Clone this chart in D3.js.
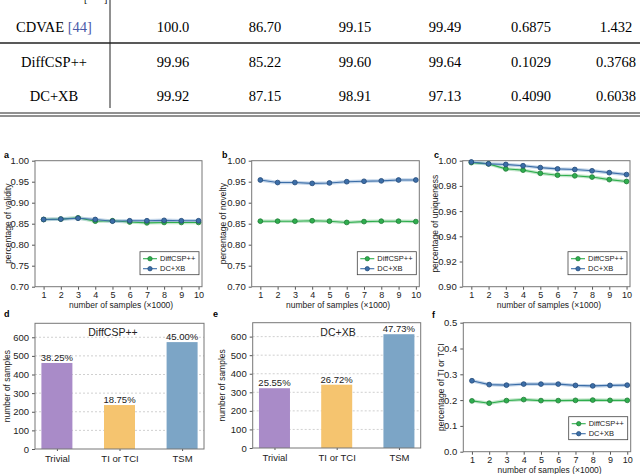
<!DOCTYPE html>
<html>
<head>
<meta charset="utf-8">
<script src="https://cdn.jsdelivr.net/npm/d3@7"></script>
<style>
  body { margin: 0; background: #fff; }
  svg { display: block; }
</style>
</head>
<body>
<script>
// ---- table data
var tableRows = ["CDVAE [44]", "DiffCSP++", "DC+XB"];
var tableVals = [
  ["100.0", "86.70", "99.15", "99.49", "0.6875", "1.432"],
  ["99.96", "85.22", "99.60", "99.64", "0.1029", "0.3768"],
  ["99.92", "87.15", "98.91", "97.13", "0.4090", "0.6038"]
];

// ---- line chart data (x = number of samples x1000)
var samples = [1, 2, 3, 4, 5, 6, 7, 8, 9, 10];
var validityDiff = [0.860, 0.861, 0.864, 0.856, 0.857, 0.854, 0.852, 0.853, 0.853, 0.853];
var validityDCXB = [0.860, 0.861, 0.863, 0.860, 0.856, 0.857, 0.857, 0.858, 0.857, 0.857];
var noveltyDiff = [0.856, 0.856, 0.856, 0.857, 0.856, 0.853, 0.855, 0.856, 0.856, 0.855];
var noveltyDCXB = [0.954, 0.948, 0.948, 0.946, 0.947, 0.950, 0.951, 0.952, 0.954, 0.954];
var uniqDiff = [0.9985, 0.9975, 0.9935, 0.9925, 0.9900, 0.9885, 0.9880, 0.9870, 0.9850, 0.9835];
var uniqDCXB = [0.9990, 0.9975, 0.9970, 0.9960, 0.9945, 0.9935, 0.9930, 0.9920, 0.9905, 0.9890];
var tiDiff = [0.197, 0.188, 0.198, 0.202, 0.198, 0.198, 0.199, 0.200, 0.199, 0.199];
var tiDCXB = [0.275, 0.260, 0.258, 0.262, 0.262, 0.262, 0.257, 0.255, 0.257, 0.258];

// ---- bar chart data
var classes = ["Trivial", "TI or TCI", "TSM"];
var countsDiff = [462, 236, 574];
var pctDiff = ["38.25%", "18.75%", "45.00%"];
var countsDCXB = [322, 341, 613];
var pctDCXB = ["25.55%", "26.72%", "47.73%"];

var green = "#2fae4e", greenDark = "#1f7a36", greenLight = "#a8dcb4";
var blue = "#3c6ea8", blueDark = "#244a78", blueLight = "#a9c3e0";
var barColors = ["#a98bc8", "#f5c46f", "#7ca5c6"];
var sans = "Liberation Sans, Arial, sans-serif";

var svg = d3.select("body").append("svg")
  .attr("width", 640)
  .attr("height", 474)
  .style("font-family", sans);

// ================= table
var serif = "Liberation Serif, Times New Roman, serif";
var tab = svg.append("g").style("font-family", serif).style("font-size", "14.5px");
var colX = [173, 265, 355, 445, 531, 616];
var rowY = d3.scalePoint().domain(tableRows).range([32, 101]);

// bottom of the header row that is cut off at the top
tab.append("text").attr("x", 84).attr("y", 2).style("font-size", "10px").text("[");
tab.append("text").attr("x", 104).attr("y", 2).style("font-size", "10px").text("]");
tab.append("line").attr("x1", 110).attr("x2", 110).attr("y1", 0).attr("y2", 108)
  .attr("stroke", "#222").attr("stroke-width", 1);
tab.append("line").attr("x1", 0).attr("x2", 640).attr("y1", 43).attr("y2", 43)
  .attr("stroke", "#222").attr("stroke-width", 1.4);
tab.append("line").attr("x1", 0).attr("x2", 640).attr("y1", 113).attr("y2", 113)
  .attr("stroke", "#222").attr("stroke-width", 1);
tab.append("line").attr("x1", 0).attr("x2", 640).attr("y1", 116).attr("y2", 116)
  .attr("stroke", "#222").attr("stroke-width", 1);

tableRows.forEach(function(r, i) {
  var t = tab.append("text").attr("x", 54).attr("y", rowY(r)).attr("text-anchor", "middle");
  if (r.indexOf("[") >= 0) {
    t.append("tspan").text("CDVAE ");
    t.append("tspan").attr("fill", "#4b5aa8").text("[44]");
  } else {
    t.text(r);
  }
  tableVals[i].forEach(function(v, j) {
    tab.append("text").attr("x", colX[j]).attr("y", rowY(r)).attr("text-anchor", "middle").text(v);
  });
});

// ================= helpers
function frame(g, x0, x1, y0, y1) {
  g.append("rect").attr("x", x0).attr("y", y0).attr("width", x1 - x0).attr("height", y1 - y0)
    .attr("fill", "none").attr("stroke", "#777").attr("stroke-width", 1);
}

function yAxis(g, y, x0, ticks, fmt) {
  var ax = g.append("g").attr("transform", "translate(" + x0 + ",0)")
    .call(d3.axisLeft(y).tickValues(ticks).tickFormat(fmt).tickSize(3).tickPadding(3));
  ax.select(".domain").remove();
  ax.selectAll("line").attr("stroke", "#555");
  ax.selectAll("text").style("font-family", sans).style("font-size", "9.5px").attr("fill", "#222");
}

function letter(g, x, y, t) {
  g.append("text").attr("x", x).attr("y", y).style("font-size", "9px")
    .style("font-weight", "bold").text(t);
}

function yTitle(g, x, yMid, t) {
  g.append("text").attr("transform", "translate(" + x + "," + yMid + ") rotate(-90)")
    .attr("text-anchor", "middle").style("font-size", "8.5px").attr("fill", "#222").text(t);
}

function lineChart(o) {
  var g = svg.append("g");
  var x = d3.scaleLinear().domain([0.5, 10.2]).range([o.x0, o.x1]);
  var y = d3.scaleLinear().domain(o.ydom).range([o.y1, o.y0]);

  var xa = g.append("g").attr("transform", "translate(0," + o.y1 + ")")
    .call(d3.axisBottom(x).tickValues(samples).tickSize(3).tickPadding(2));
  xa.select(".domain").remove();
  xa.selectAll("line").attr("stroke", "#555");
  xa.selectAll("text").style("font-family", sans).style("font-size", "9px").attr("fill", "#222");
  yAxis(g, y, o.x0, o.yticks, d3.format(o.yfmt));
  frame(g, o.x0, o.x1, o.y0, o.y1);

  var series = [
    { vals: o.diff, c: green, cd: greenDark, cl: greenLight, name: "DiffCSP++" },
    { vals: o.dcxb, c: blue, cd: blueDark, cl: blueLight, name: "DC+XB" }
  ];
  var line = d3.line().x(function(d, i) { return x(samples[i]); }).y(function(d) { return y(d); });
  series.forEach(function(s) {
    g.append("path").attr("d", line(s.vals)).attr("fill", "none")
      .attr("stroke", s.cl).attr("stroke-width", 3.5).attr("opacity", 0.7);
  });
  series.forEach(function(s) {
    g.append("path").attr("d", line(s.vals)).attr("fill", "none")
      .attr("stroke", s.c).attr("stroke-width", 1.1);
    g.selectAll(null).data(s.vals).enter().append("circle")
      .attr("cx", function(d, i) { return x(samples[i]); })
      .attr("cy", function(d) { return y(d); })
      .attr("r", 2.4).attr("fill", s.c).attr("stroke", s.cd).attr("stroke-width", 0.8);
  });

  // legend
  var lg = g.append("g").attr("transform", "translate(" + (o.x1 - 62) + "," + (o.y1 - 35) + ")");
  lg.append("rect").attr("width", 59).attr("height", 23).attr("fill", "#fff")
    .attr("stroke", "#444").attr("stroke-width", 0.8);
  series.forEach(function(s, i) {
    var yy = 7 + i * 10;
    lg.append("line").attr("x1", 3).attr("x2", 17).attr("y1", yy).attr("y2", yy)
      .attr("stroke", s.c).attr("stroke-width", 1.1);
    lg.append("circle").attr("cx", 10).attr("cy", yy).attr("r", 2.2)
      .attr("fill", s.c).attr("stroke", s.cd).attr("stroke-width", 0.7);
    lg.append("text").attr("x", 20).attr("y", yy + 2.6).style("font-size", "7.5px")
      .attr("fill", "#222").text(s.name);
  });

  g.append("text").attr("x", (x(1) + x(10)) / 2).attr("y", o.y1 + 21).attr("text-anchor", "middle")
    .style("font-size", "8.5px").attr("fill", "#222").text("number of samples (\u00d71000)");
  yTitle(g, o.tx, (o.y0 + o.y1) / 2, o.title);
  letter(g, o.lx, o.ly, o.letter);
}

function barChart(o) {
  var g = svg.append("g");
  var x = d3.scalePoint().domain(classes).range([o.x0, o.x1]).padding(0.35);
  var y = d3.scaleLinear().domain([0, 675]).range([o.y1, o.y0]);
  var grid = [100, 200, 300, 400, 500, 600];

  g.selectAll(null).data(grid).enter().append("line")
    .attr("x1", o.x0).attr("x2", o.x1)
    .attr("y1", function(d) { return y(d); }).attr("y2", function(d) { return y(d); })
    .attr("stroke", "#bbb").attr("stroke-width", 0.7).attr("stroke-dasharray", "2,2");

  var bw = 31;
  g.selectAll(null).data(o.counts).enter().append("rect")
    .attr("x", function(d, i) { return x(classes[i]) - bw / 2; })
    .attr("y", function(d) { return y(d); })
    .attr("width", bw)
    .attr("height", function(d) { return y(0) - y(d); })
    .attr("fill", function(d, i) { return barColors[i]; });

  g.selectAll(null).data(o.counts).enter().append("text")
    .attr("x", function(d, i) { return x(classes[i]); })
    .attr("y", function(d) { return y(d) - 2; })
    .attr("text-anchor", "middle").style("font-size", "9.5px").attr("fill", "#222")
    .text(function(d, i) { return o.pct[i]; });

  var xa = g.append("g").attr("transform", "translate(0," + o.y1 + ")")
    .call(d3.axisBottom(x).tickSize(2).tickPadding(4));
  xa.select(".domain").remove();
  xa.selectAll("line").attr("stroke", "#555");
  xa.selectAll("text").style("font-family", sans).style("font-size", "9.5px").attr("fill", "#222");
  yAxis(g, y, o.x0, [0].concat(grid), d3.format("d"));
  frame(g, o.x0, o.x1, o.y0, o.y1);

  g.append("text").attr("x", o.tx2).attr("y", o.y0 + 13).attr("text-anchor", "middle")
    .style("font-size", "10.5px").attr("fill", "#222").text(o.name);
  yTitle(g, o.tx, (o.y0 + o.y1) / 2, "number of samples");
  letter(g, o.lx, o.ly, o.letter);
}

lineChart({ x0: 35, x1: 202, y0: 160.7, y1: 286.7, ydom: [0.70, 1.00],
  yticks: [0.70, 0.75, 0.80, 0.85, 0.90, 0.95, 1.00], yfmt: ".2f",
  diff: validityDiff, dcxb: validityDCXB, title: "percentage of validity",
  tx: 11, letter: "a", lx: 4, ly: 158 });
lineChart({ x0: 251.7, x1: 419.3, y0: 160.7, y1: 286.7, ydom: [0.70, 1.00],
  yticks: [0.70, 0.75, 0.80, 0.85, 0.90, 0.95, 1.00], yfmt: ".2f",
  diff: noveltyDiff, dcxb: noveltyDCXB, title: "percentage of novelty",
  tx: 226, letter: "b", lx: 222, ly: 158 });
lineChart({ x0: 462.7, x1: 630, y0: 160.7, y1: 286.7, ydom: [0.90, 1.00],
  yticks: [0.90, 0.92, 0.94, 0.96, 0.98, 1.00], yfmt: ".2f",
  diff: uniqDiff, dcxb: uniqDCXB, title: "percentage of uniqueness",
  tx: 438, letter: "c", lx: 434, ly: 158 });
lineChart({ x0: 463.3, x1: 630.7, y0: 322.7, y1: 451.7, ydom: [0, 0.5],
  yticks: [0, 0.1, 0.2, 0.3, 0.4, 0.5], yfmt: ".1f",
  diff: tiDiff, dcxb: tiDCXB, title: "percentage of TI or TCI",
  tx: 444, letter: "f", lx: 432, ly: 318 });

barChart({ x0: 35, x1: 204, y0: 323.3, y1: 449, counts: countsDiff, pct: pctDiff,
  name: "DiffCSP++", tx2: 113, tx: 10, letter: "d", lx: 4, ly: 317 });
barChart({ x0: 252.7, x1: 420.7, y0: 322.7, y1: 448, counts: countsDCXB, pct: pctDCXB,
  name: "DC+XB", tx2: 338, tx: 225, letter: "e", lx: 213, ly: 317 });
</script>
</body>
</html>
